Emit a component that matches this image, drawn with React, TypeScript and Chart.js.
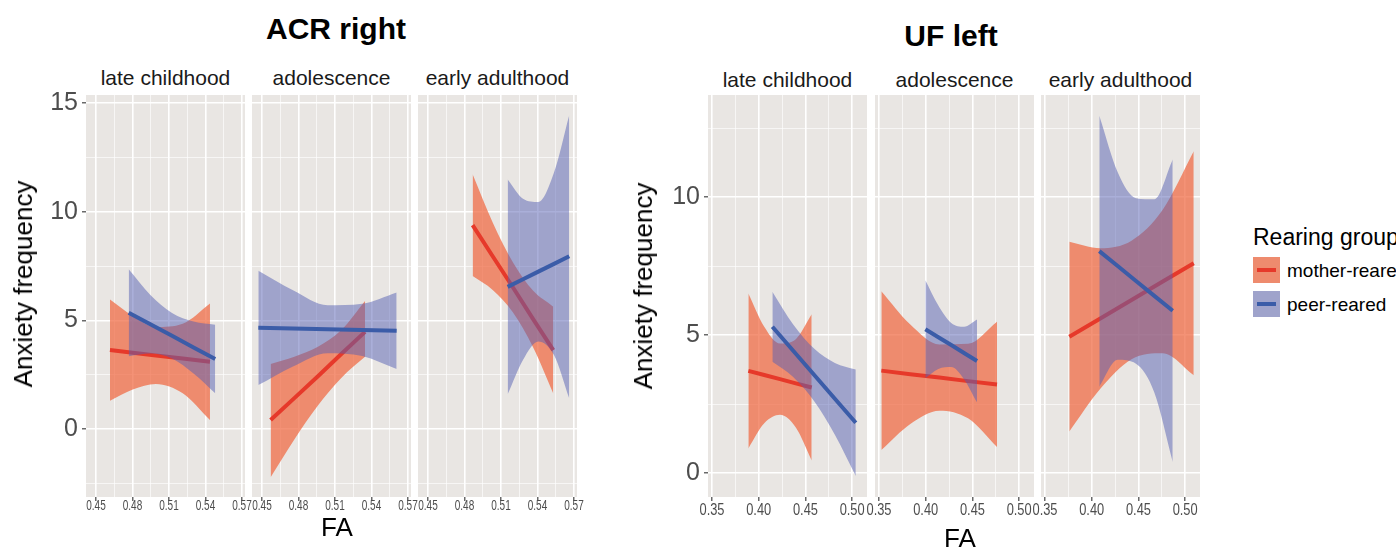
import React, { useEffect, useRef } from "react";
import { Chart, registerables } from "chart.js";

Chart.register(...registerables);

const FONT = '"Liberation Sans", Arial, Helvetica, sans-serif';

// ---------- labels ----------
const figureTitles = ["ACR right", "UF left"];
const stageLabels = ["late childhood", "adolescence", "early adulthood"];
const groupLabels = ["mother-reared", "peer-reared"];
const legendTitle = "Rearing group";
const yAxisTitle = "Anxiety frequency";
const xAxisTitle = "FA";

// ---------- axis ticks ----------
const acrYMajor = [0, 5, 10, 15];
const acrYMinor = [-2.5, 2.5, 7.5, 12.5];
const acrXMajor = [0.45, 0.48, 0.51, 0.54, 0.57];
const acrXMinor = [0.435, 0.465, 0.495, 0.525, 0.555, 0.585];
const ufYMajor = [0, 5, 10];
const ufYMinor = [-2.5, 2.5, 7.5, 12.5];
const ufXMajor = [0.35, 0.4, 0.45, 0.5];
const ufXMinor = [0.325, 0.375, 0.425, 0.475, 0.525];

// ---------- ACR right : late childhood ----------
const acrLateMotherX = [0.4615, 0.4802, 0.4993, 0.5213, 0.5437];
const acrLateMotherFit = [3.63, 3.51, 3.38, 3.24, 3.09];
const acrLateMotherHi = [5.96, 5.2, 4.69, 4.84, 5.77];
const acrLateMotherLo = [1.3, 1.82, 2.07, 1.64, 0.41];
const acrLatePeerX = [0.4769, 0.4947, 0.5125, 0.5302, 0.548];
const acrLatePeerFit = [5.35, 4.82, 4.29, 3.75, 3.22];
const acrLatePeerHi = [7.35, 6.17, 5.34, 4.95, 4.8];
const acrLatePeerLo = [3.35, 3.47, 3.24, 2.55, 1.64];

// ---------- ACR right : adolescence ----------
const acrAdolMotherX = [0.4571, 0.4766, 0.496, 0.5152, 0.5347];
const acrAdolMotherFit = [0.41, 1.42, 2.43, 3.45, 4.47];
const acrAdolMotherHi = [2.99, 3.32, 3.78, 4.55, 5.89];
const acrAdolMotherLo = [-2.22, -0.48, 1.08, 2.35, 3.32];
const acrAdolPeerX = [0.447, 0.4755, 0.504, 0.5324, 0.5607];
const acrAdolPeerFit = [4.66, 4.63, 4.59, 4.56, 4.52];
const acrAdolPeerHi = [7.28, 6.38, 5.69, 5.76, 6.28];
const acrAdolPeerLo = [2.02, 2.88, 3.49, 3.36, 2.76];

// ---------- ACR right : early adulthood ----------
const acrAdultMotherX = [0.4867, 0.5032, 0.5199, 0.5363, 0.553];
const acrAdultMotherFit = [9.38, 7.95, 6.51, 5.07, 3.63];
const acrAdultMotherHi = [11.72, 9.5, 7.66, 6.37, 5.63];
const acrAdultMotherLo = [7.04, 6.4, 5.36, 3.77, 1.63];
const acrAdultPeerX = [0.5155, 0.5281, 0.5407, 0.5536, 0.5661];
const acrAdultPeerFit = [6.54, 6.89, 7.24, 7.6, 7.95];
const acrAdultPeerHi = [11.48, 10.6, 10.45, 11.8, 14.44];
const acrAdultPeerLo = [1.6, 3.18, 4.03, 3.4, 1.41];

// ---------- UF left : late childhood ----------
const ufLateMotherX = [0.3889, 0.4059, 0.4228, 0.4397, 0.4567];
const ufLateMotherFit = [3.7, 3.55, 3.4, 3.25, 3.1];
const ufLateMotherHi = [6.51, 5.3, 4.69, 4.85, 5.75];
const ufLateMotherLo = [0.89, 1.8, 2.11, 1.65, 0.45];
const ufLatePeerX = [0.4146, 0.4369, 0.4592, 0.4815, 0.5039];
const ufLatePeerFit = [5.3, 4.43, 3.56, 2.69, 1.82];
const ufLatePeerHi = [6.57, 5.38, 4.51, 3.99, 3.75];
const ufLatePeerLo = [4.03, 3.48, 2.61, 1.39, -0.11];

// ---------- UF left : adolescence ----------
const ufAdolMotherX = [0.3525, 0.3835, 0.4146, 0.4453, 0.4763];
const ufAdolMotherFit = [3.71, 3.58, 3.46, 3.33, 3.21];
const ufAdolMotherHi = [6.59, 5.38, 4.66, 4.68, 5.48];
const ufAdolMotherLo = [0.83, 1.78, 2.26, 1.98, 0.94];
const ufAdolPeerX = [0.3996, 0.4135, 0.4273, 0.441, 0.4549];
const ufAdolPeerFit = [5.21, 4.92, 4.64, 4.35, 4.06];
const ufAdolPeerHi = [6.99, 6.07, 5.44, 5.3, 5.56];
const ufAdolPeerLo = [3.43, 3.77, 3.84, 3.4, 2.56];

// ---------- UF left : early adulthood ----------
const ufAdultMotherX = [0.376, 0.4092, 0.4426, 0.476, 0.5092];
const ufAdultMotherFit = [4.94, 5.6, 6.27, 6.94, 7.6];
const ufAdultMotherHi = [8.38, 8.15, 8.42, 9.54, 11.66];
const ufAdultMotherLo = [1.5, 3.05, 4.12, 4.34, 3.54];
const ufAdultPeerX = [0.4081, 0.4278, 0.4474, 0.467, 0.4867];
const ufAdultPeerFit = [8.04, 7.5, 6.96, 6.42, 5.88];
const ufAdultPeerHi = [12.95, 10.9, 9.96, 9.92, 11.36];
const ufAdultPeerLo = [3.13, 4.1, 3.96, 2.92, 0.4];

// ---------- styles ----------
const PANEL_BG = "rgb(233,230,227)";
const lineColors = ["#e6392a", "#3b5ca8"];
const ribbonColors = ["rgba(240,100,60,0.7)", "rgba(85,95,180,0.5)"];
const TICK_TEXT = "#4d4d4d";

type Series = { x: number[]; fit: number[]; hi: number[]; lo: number[] };
type PanelCfg = {
  left: number;
  top: number;
  width: number;
  height: number;
  xMin: number;
  xMax: number;
  yMin: number;
  yMax: number;
  xMajor: number[];
  xMinor: number[];
  yMajor: number[];
  yMinor: number[];
  showY: boolean;
  xFont: number;
  xPad: number;
  xLabelMaxWidth: number;
  series: Series[];
};

const near = (arr: number[], v: number) => arr.some((m) => Math.abs(m - v) < 1e-9);

const panelBg = {
  id: "panelBg",
  beforeDraw(chart: any) {
    const { ctx, chartArea: a } = chart;
    ctx.save();
    ctx.fillStyle = PANEL_BG;
    ctx.fillRect(a.left, a.top, a.right - a.left, a.bottom - a.top);
    ctx.restore();
  },
};

// draws the x-axis tick labels at the scale's own tick positions,
// with a condensed rendering like the reference
const xLabels = {
  id: "xLabels",
  afterDraw(chart: any, _args: any, opts: any) {
    const s = chart.scales.x;
    const ctx = chart.ctx;
    ctx.save();
    ctx.font = `${opts.size}px ${FONT}`;
    ctx.fillStyle = TICK_TEXT;
    ctx.textAlign = "center";
    ctx.textBaseline = "top";
    (opts.values as number[]).forEach((v) => {
      const x = s.getPixelForValue(v);
      ctx.fillText(v.toFixed(2), x, s.top + opts.offset, opts.maxWidth);
    });
    ctx.restore();
  },
};

const PT = 20;
const PL = 24;
const PR = 24;
const XH = 36;
const YW = 44;

function FacetPanel({ cfg }: { cfg: PanelCfg }) {
  const ref = useRef<HTMLCanvasElement>(null);
  const yw = cfg.showY ? YW : 0;
  const cw = PL + yw + cfg.width + PR;
  const ch = PT + cfg.height + XH;

  useEffect(() => {
    if (!ref.current) return;
    const datasets: any[] = [];
    cfg.series.forEach((s, gi) => {
      const pts = (arr: number[]) => s.x.map((x, i) => ({ x, y: arr[i] }));
      const ord = (1 - gi) * 3;
      datasets.push({
        label: groupLabels[gi] + " CI upper",
        data: pts(s.hi),
        fill: "+1",
        backgroundColor: ribbonColors[gi],
        borderColor: "rgba(0,0,0,0)",
        borderWidth: 0,
        pointRadius: 0,
        cubicInterpolationMode: "monotone",
        order: ord + 3,
      });
      datasets.push({
        label: groupLabels[gi] + " CI lower",
        data: pts(s.lo),
        fill: false,
        borderColor: "rgba(0,0,0,0)",
        borderWidth: 0,
        pointRadius: 0,
        cubicInterpolationMode: "monotone",
        order: ord + 2,
      });
      datasets.push({
        label: groupLabels[gi],
        data: pts(s.fit),
        fill: false,
        borderColor: lineColors[gi],
        borderWidth: 4,
        borderCapStyle: "butt",
        pointRadius: 0,
        tension: 0,
        order: ord + 1,
      });
    });

    const xTicks = [...cfg.xMajor, ...cfg.xMinor]
      .filter((v) => v >= cfg.xMin && v <= cfg.xMax)
      .sort((a, b) => a - b);
    const yTicks = [...cfg.yMajor, ...cfg.yMinor]
      .filter((v) => v >= cfg.yMin && v <= cfg.yMax)
      .sort((a, b) => a - b);

    const gridOpts = (major: number[], drawTicks: boolean) => ({
      color: (c: any) => (c.tick && near(major, c.tick.value) ? "#ffffff" : "rgba(255,255,255,0.8)"),
      lineWidth: (c: any) => (c.tick && near(major, c.tick.value) ? 1.6 : 0.8),
      tickColor: (c: any) => (c.tick && near(major, c.tick.value) ? "#444444" : "rgba(0,0,0,0)"),
      tickWidth: 1.2,
      tickLength: 4,
      drawTicks,
    });

    const chart = new Chart(ref.current, {
      type: "line",
      data: { datasets },
      options: {
        animation: false,
        responsive: false,
        maintainAspectRatio: false,
        devicePixelRatio: 1,
        layout: { padding: { top: PT, left: PL, right: PR, bottom: 0 } },
        plugins: {
          legend: { display: false },
          tooltip: { enabled: false },
          xLabels: {
            values: cfg.xMajor.filter((v) => v >= cfg.xMin && v <= cfg.xMax),
            size: cfg.xFont,
            offset: cfg.xPad,
            maxWidth: cfg.xLabelMaxWidth,
          },
        },
        scales: {
          x: {
            type: "linear",
            position: "bottom",
            bounds: "data",
            min: cfg.xMin,
            max: cfg.xMax,
            afterBuildTicks: (s: any) => {
              s.ticks = xTicks.map((v) => ({ value: v }));
            },
            afterFit: (s: any) => {
              s.height = XH;
            },
            ticks: {
              display: false,
              autoSkip: false,
              maxRotation: 0,
              minRotation: 0,
            },
            grid: gridOpts(cfg.xMajor, true),
            border: { display: false },
          },
          y: {
            type: "linear",
            position: "left",
            bounds: "data",
            min: cfg.yMin,
            max: cfg.yMax,
            afterBuildTicks: (s: any) => {
              s.ticks = yTicks.map((v) => ({ value: v }));
            },
            afterFit: (s: any) => {
              s.width = yw;
            },
            ticks: {
              display: cfg.showY,
              autoSkip: false,
              padding: 4,
              color: TICK_TEXT,
              font: { family: FONT, size: 25 },
              callback: (v: any) => (near(cfg.yMajor, Number(v)) ? String(v) : ""),
            },
            grid: gridOpts(cfg.yMajor, cfg.showY),
            border: { display: false },
          },
        },
      } as any,
      plugins: [panelBg, xLabels],
    });
    return () => chart.destroy();
  }, [cfg]);

  return (
    <canvas
      ref={ref}
      width={cw}
      height={ch}
      style={{
        position: "absolute",
        left: cfg.left - yw - PL,
        top: cfg.top - PT,
        width: cw,
        height: ch,
      }}
    />
  );
}

const acrCommon = {
  top: 95,
  width: 159,
  height: 402,
  xMin: 0.4418,
  xMax: 0.5725,
  yMin: -3.13,
  yMax: 15.37,
  xMajor: acrXMajor,
  xMinor: acrXMinor,
  yMajor: acrYMajor,
  yMinor: acrYMinor,
  xFont: 15,
  xPad: 1,
  xLabelMaxWidth: 19.5,
};
const ufCommon = {
  top: 95,
  width: 159,
  height: 402,
  xMin: 0.3457,
  xMax: 0.5159,
  yMin: -0.87,
  yMax: 13.7,
  xMajor: ufXMajor,
  xMinor: ufXMinor,
  yMajor: ufYMajor,
  yMinor: ufYMinor,
  xFont: 16,
  xPad: 6,
  xLabelMaxWidth: 25,
};

const panels: PanelCfg[] = [
  {
    ...acrCommon,
    left: 86,
    showY: true,
    series: [
      { x: acrLateMotherX, fit: acrLateMotherFit, hi: acrLateMotherHi, lo: acrLateMotherLo },
      { x: acrLatePeerX, fit: acrLatePeerFit, hi: acrLatePeerHi, lo: acrLatePeerLo },
    ],
  },
  {
    ...acrCommon,
    left: 252,
    showY: false,
    series: [
      { x: acrAdolMotherX, fit: acrAdolMotherFit, hi: acrAdolMotherHi, lo: acrAdolMotherLo },
      { x: acrAdolPeerX, fit: acrAdolPeerFit, hi: acrAdolPeerHi, lo: acrAdolPeerLo },
    ],
  },
  {
    ...acrCommon,
    left: 418,
    showY: false,
    series: [
      { x: acrAdultMotherX, fit: acrAdultMotherFit, hi: acrAdultMotherHi, lo: acrAdultMotherLo },
      { x: acrAdultPeerX, fit: acrAdultPeerFit, hi: acrAdultPeerHi, lo: acrAdultPeerLo },
    ],
  },
  {
    ...ufCommon,
    left: 708,
    showY: true,
    series: [
      { x: ufLateMotherX, fit: ufLateMotherFit, hi: ufLateMotherHi, lo: ufLateMotherLo },
      { x: ufLatePeerX, fit: ufLatePeerFit, hi: ufLatePeerHi, lo: ufLatePeerLo },
    ],
  },
  {
    ...ufCommon,
    left: 875,
    showY: false,
    series: [
      { x: ufAdolMotherX, fit: ufAdolMotherFit, hi: ufAdolMotherHi, lo: ufAdolMotherLo },
      { x: ufAdolPeerX, fit: ufAdolPeerFit, hi: ufAdolPeerHi, lo: ufAdolPeerLo },
    ],
  },
  {
    ...ufCommon,
    left: 1041,
    showY: false,
    series: [
      { x: ufAdultMotherX, fit: ufAdultMotherFit, hi: ufAdultMotherHi, lo: ufAdultMotherLo },
      { x: ufAdultPeerX, fit: ufAdultPeerFit, hi: ufAdultPeerHi, lo: ufAdultPeerLo },
    ],
  },
];

function Txt(props: {
  x: number;
  y: number;
  size: number;
  bold?: boolean;
  color?: string;
  rotate?: boolean;
  align?: "center" | "left";
  children: React.ReactNode;
}) {
  const { x, y, size, bold, color, rotate, align = "center", children } = props;
  const tx = align === "center" ? "-50%" : "0";
  return (
    <div
      style={{
        position: "absolute",
        left: x,
        top: y,
        transform: `translate(${tx}, -50%)${rotate ? " rotate(-90deg)" : ""}`,
        transformOrigin: align === "center" ? "50% 50%" : "0 50%",
        fontFamily: FONT,
        fontSize: size,
        fontWeight: bold ? 700 : 400,
        color: color || "#000",
        whiteSpace: "nowrap",
        lineHeight: 1,
      }}
    >
      {children}
    </div>
  );
}

function LegendKey({ top, gi }: { top: number; gi: number }) {
  return (
    <div
      style={{
        position: "absolute",
        left: 1253,
        top,
        width: 27,
        height: 26,
        background: PANEL_BG,
      }}
    >
      <div style={{ position: "absolute", inset: 0, background: ribbonColors[gi] }} />
      <div
        style={{
          position: "absolute",
          left: 4,
          right: 4,
          top: 11,
          height: 4,
          background: lineColors[gi],
        }}
      />
    </div>
  );
}

export default function App() {
  const acrCenters = [165.5, 331.5, 497.5];
  const ufCenters = [787.5, 954.5, 1120.5];
  return (
    <div
      style={{
        position: "fixed",
        left: 0,
        top: 0,
        width: 1396,
        height: 548,
        background: "#ffffff",
        overflow: "hidden",
      }}
    >
      <Txt x={336} y={29} size={30} bold>
        {figureTitles[0]}
      </Txt>
      <Txt x={951} y={36} size={30} bold>
        {figureTitles[1]}
      </Txt>
      {stageLabels.map((s, i) => (
        <Txt key={"a" + i} x={acrCenters[i]} y={77} size={21} color="#1a1a1a">
          {s}
        </Txt>
      ))}
      {stageLabels.map((s, i) => (
        <Txt key={"u" + i} x={ufCenters[i]} y={79} size={21} color="#1a1a1a">
          {s}
        </Txt>
      ))}
      {panels.map((p, i) => (
        <FacetPanel key={i} cfg={p} />
      ))}
      <Txt x={23} y={284} size={26} rotate>
        {yAxisTitle}
      </Txt>
      <Txt x={643} y={286} size={26} rotate>
        {yAxisTitle}
      </Txt>
      <Txt x={337} y={527} size={26}>
        {xAxisTitle}
      </Txt>
      <Txt x={960} y={538} size={26}>
        {xAxisTitle}
      </Txt>
      <Txt x={1253} y={237} size={23} align="left">
        {legendTitle}
      </Txt>
      <LegendKey top={257} gi={0} />
      <LegendKey top={291} gi={1} />
      <Txt x={1287} y={270} size={19} align="left">
        {groupLabels[0]}
      </Txt>
      <Txt x={1287} y={304} size={19} align="left">
        {groupLabels[1]}
      </Txt>
    </div>
  );
}
